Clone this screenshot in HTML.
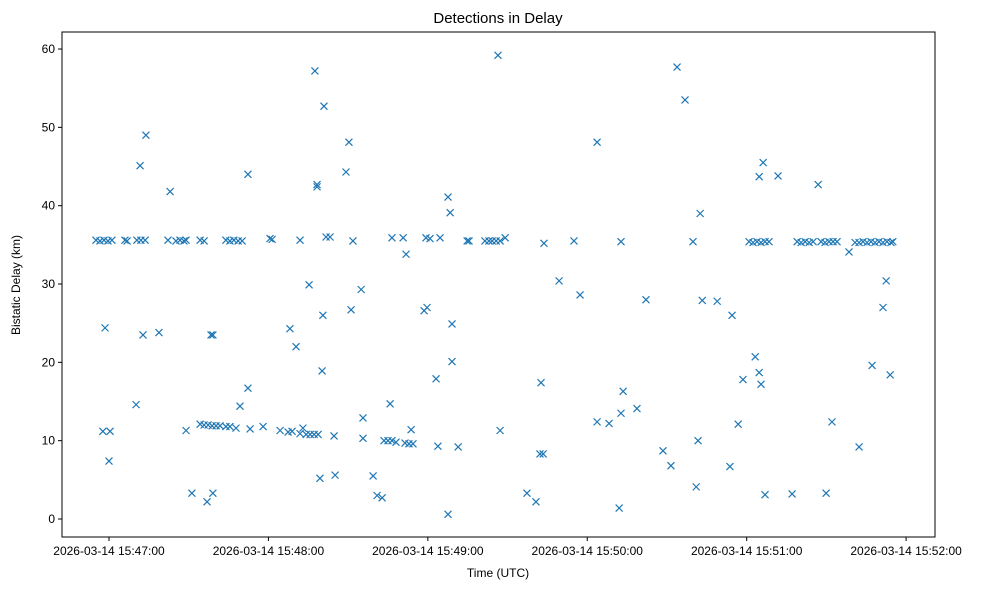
<!DOCTYPE html>
<html><head><meta charset="utf-8"><style>
html,body{margin:0;padding:0;background:#fff;}
svg{display:block;font-family:"Liberation Sans","DejaVu Sans",sans-serif;}
</style></head><body>
<svg id="chart" width="986" height="590">
<rect width="986" height="590" fill="#fff"/>
<text x="498" y="23" text-anchor="middle" font-size="15">Detections in Delay</text>
<g id="marks"></g>
<g id="axes"></g>
<rect x="62" y="32" width="873" height="505" fill="none" stroke="#000" stroke-width="1"/>
<text x="498" y="577" text-anchor="middle" font-size="12">Time (UTC)</text>
<text transform="translate(20,285) rotate(-90)" text-anchor="middle" font-size="12">Bistatic Delay (km)</text>
</svg>
<script>
// seconds since 15:46:00 UTC
const times = [55.1,56.6,58.1,59.6,61.1,66.0,66.8,70.5,72.0,73.6,82.2,85.2,86.7,88.2,89.0,94.3,95.8,104.0,105.5,107.0,108.6,110.1,120.6,121.4,131.9,166.5,170.7,179.3,180.8,184.6,194.8,195.5,201.5,203.0,204.2,205.7,207.2,209.1,223.7,235.0,252.7,279.8,
300.9,302.4,303.9,305.4,306.9,308.4,319.0,320.5,322.0,323.5,325.0,328.0,329.5,331.0,332.5,334.0,340.8,342.3,343.8,345.3,346.8,348.3,349.8,351.3,352.8,354.3,355.0,
58.5,57.7,60.4,60.0,70.2,71.7,73.9,72.8,78.8,83.0,89.0,91.2,94.3,95.8,97.3,98.8,100.3,101.8,104.0,105.5,107.8,96.9,99.1,98.4,99.1,109.3,112.3,112.3,113.1,118.0,124.4,127.4,128.9,128.1,130.4,131.9,133.0,134.2,135.7,137.2,138.7,135.3,137.5,138.3,138.3,139.4,140.5,140.2,140.9,141.7,143.2,144.7,145.1,149.2,150.3,151.1,151.8,154.9,155.6,155.6,159.4,160.9,162.8,163.5,165.0,166.5,168.0,165.8,171.8,173.7,171.4,172.9,174.4,178.6,179.7,183.1,183.8,187.6,188.4,189.1,189.1,191.4,187.6,206.4,207.2,217.3,220.7,222.6,222.2,223.4,229.4,237.3,243.7,243.7,248.2,253.5,252.7,252.0,258.7,262.1,268.5,271.5,273.8,276.8,282.5,281.7,281.0,283.3,288.9,293.7,294.5,296.8,298.6,303.2,304.7,306.2,304.7,305.4,306.9,311.8,317.1,326.9,329.9,332.1,338.5,342.3,347.2,351.3,352.5,354.0];
const delays = [35.6,35.5,35.6,35.5,35.6,35.6,35.5,35.6,35.6,35.6,35.6,35.5,35.6,35.5,35.6,35.6,35.5,35.6,35.5,35.6,35.5,35.5,35.8,35.7,35.6,35.9,35.9,35.9,35.8,35.9,35.5,35.5,35.5,35.5,35.5,35.5,35.5,35.9,35.2,35.5,35.4,35.4,
35.4,35.3,35.4,35.3,35.4,35.4,35.4,35.3,35.4,35.3,35.4,35.4,35.3,35.4,35.4,35.4,35.3,35.3,35.4,35.3,35.4,35.3,35.4,35.3,35.4,35.3,35.4,
24.4,11.2,11.2,7.4,14.6,45.1,49.0,23.5,23.8,41.8,11.3,3.3,12.1,12.0,12.0,11.9,11.9,11.9,11.8,11.8,11.6,2.2,3.3,23.5,23.5,14.4,44.0,16.7,11.5,11.8,11.3,11.1,11.2,24.3,22.0,10.9,11.6,10.8,10.8,10.8,10.8,29.9,57.2,42.7,42.4,5.2,26.0,18.9,52.7,36.0,36.0,10.6,5.6,44.3,48.1,26.7,35.5,29.3,12.9,10.3,5.5,3.0,2.7,10.0,10.0,10.0,9.8,14.7,33.8,11.4,9.7,9.6,9.6,26.6,27.0,17.9,9.3,41.1,39.1,24.9,20.1,9.2,0.6,59.2,11.3,3.3,2.2,17.4,8.3,8.3,30.4,28.6,48.1,12.4,12.2,16.3,13.5,1.4,14.1,28.0,8.7,6.8,57.7,53.5,39.0,10.0,4.1,27.9,27.8,6.7,26.0,12.1,17.8,20.7,43.7,45.5,18.7,17.2,3.1,43.8,3.2,42.7,3.3,12.4,34.1,9.2,19.6,27.0,30.4,18.4];
const xTickSeconds = [60,120,180,240,300,360];
const xTickLabels = ["2026-03-14 15:47:00","2026-03-14 15:48:00","2026-03-14 15:49:00","2026-03-14 15:50:00","2026-03-14 15:51:00","2026-03-14 15:52:00"];
const yTicks = [0,10,20,30,40,50,60];

const NS="http://www.w3.org/2000/svg";
function xScale(s){return 109+(s-60)*2.657;}
function yScale(v){return 519-v*7.833;}
function mk(tag,attrs,parent){const e=document.createElementNS(NS,tag);for(const k in attrs)e.setAttribute(k,attrs[k]);parent.appendChild(e);return e;}
const axes=document.getElementById('axes');
const marks=document.getElementById('marks');
xTickSeconds.forEach((s,i)=>{
  const x=xScale(s);
  const t=mk('line',{x1:x,x2:x,y1:537,y2:541,stroke:'#000'},axes);
  
  
  const l=mk('text',{x:x,y:555,'text-anchor':'middle','font-size':'12'},axes);
  l.textContent=xTickLabels[i];
  
  
});
yTicks.forEach(v=>{
  const y=yScale(v);
  const t=mk('line',{x1:58,x2:62,y1:y,y2:y,stroke:'#000'},axes);
  
  
  const l=mk('text',{x:55,y:y+4,'text-anchor':'end','font-size':'12'},axes);
  l.textContent=String(v);
  
  
});
times.forEach((s,i)=>{
  const x=xScale(s),y=yScale(delays[i]),r=3.5;
  const p=mk('path',{d:`M${x-r},${y-r}L${x+r},${y+r}M${x-r},${y+r}L${x+r},${y-r}`,stroke:'#1f77b4','stroke-width':'1.2',fill:'none'},marks);
  
  
});
</script>
</body></html>
